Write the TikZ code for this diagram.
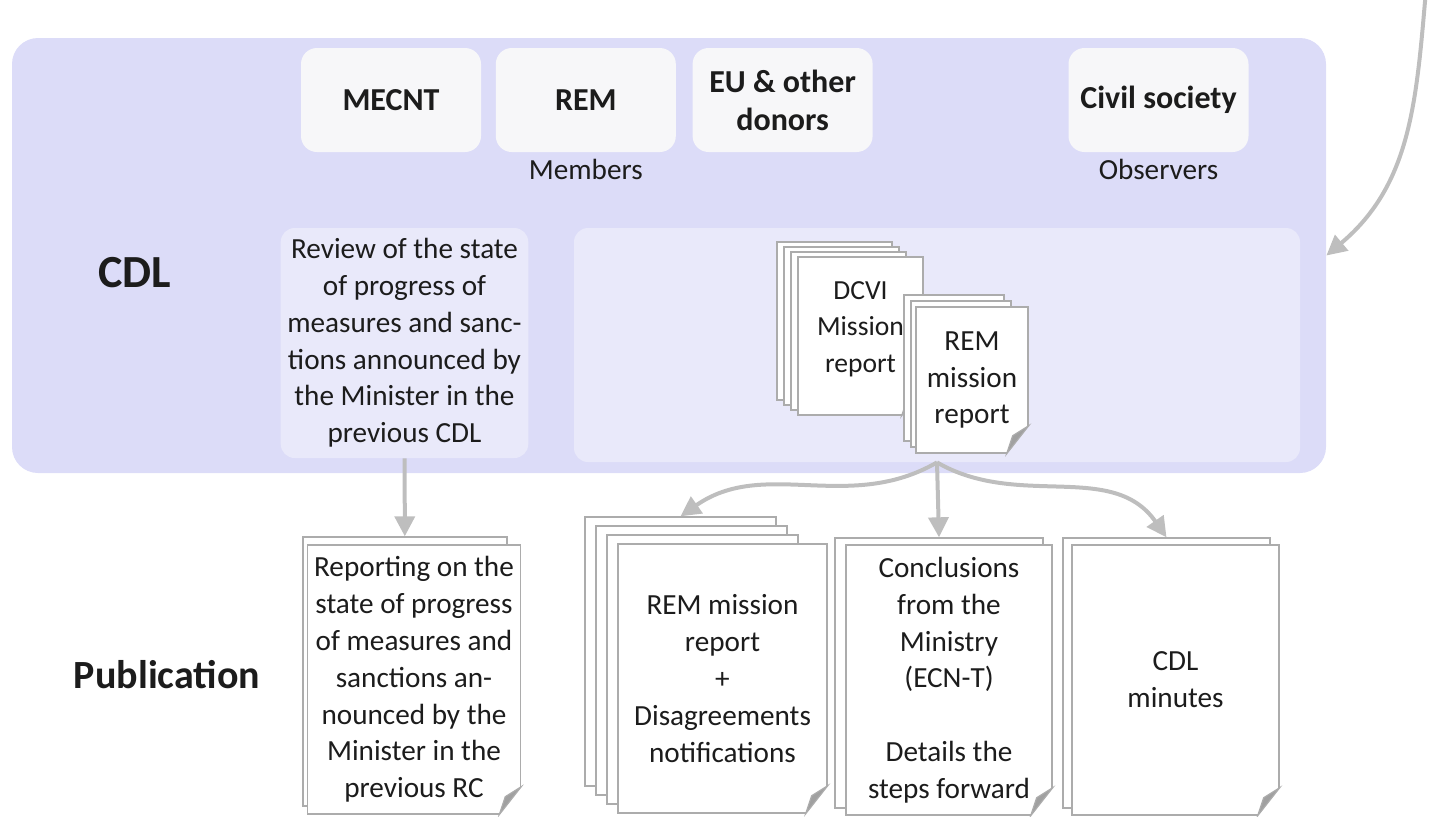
\documentclass[tikz,border=0pt]{standalone}
\usepackage{fontspec}
\setmainfont{Carlito}
\usetikzlibrary{positioning,arrows.meta}

\definecolor{cdlblue}{RGB}{220,220,248}
\definecolor{panelblue}{RGB}{233,233,250}
\definecolor{boxwhite}{RGB}{247,247,249}
\definecolor{flowgray}{RGB}{190,190,190}
\definecolor{pagegray}{RGB}{172,172,172}
\definecolor{foldgray}{RGB}{160,160,160}
\definecolor{ink}{RGB}{28,28,28}

\newcommand{\bodyfont}{\fontsize{14.6}{18.4}\selectfont}

% folded corner at the bottom right of a page (#2 = colour behind the page)
\newcommand{\dogear}[2]{%
  \fill[#2] ([yshift=14pt]#1.south east) -- ([xshift=1pt,yshift=-1pt]#1.south east) -- ([xshift=-11pt]#1.south east) -- cycle;
  \filldraw[draw=pagegray, fill=foldgray, line width=0.6pt] ([yshift=14pt]#1.south east) -- ([xshift=-11pt]#1.south east) -- ([xshift=-8pt,yshift=9pt]#1.south east) -- cycle;
}

\tikzset{
  member/.style={fill=boxwhite, rounded corners=8pt, minimum width=90pt, minimum height=52pt, align=center, text=ink, font=\fontsize{16}{19}\selectfont\bfseries},
  panel/.style={fill=panelblue, rounded corners=7pt, text=ink},
  page/.style={draw=pagegray, fill=white, line width=0.7pt, align=center, text=ink, font=\bodyfont},
  caption/.style={font=\bodyfont, text=ink},
  heading/.style={font=\fontsize{23}{27}\selectfont\bfseries, text=ink},
  flow/.style={draw=flowgray, line width=2pt, -{Triangle[width=10pt,length=10pt]}},
}

\begin{document}
\begin{tikzpicture}[x=0.5pt, y=-0.5pt, node distance=7.5pt]
\useasboundingbox (0,0) rectangle (1435,816);

% CDL meeting
\node[fill=cdlblue, rounded corners=13pt, minimum width=657pt, minimum height=217.5pt] (cdl) at (669,255.5) {};
\node[member] (mecnt) at (391,100) {MECNT};
\node[member, right=7pt of mecnt] (rem) {REM};
\node[member, right=8pt of rem] (donors) {EU \& other\\donors};
\node[member] (civil) at (1158.5,100) {Civil society};
\node[caption, below=0pt of rem] (members) {Members};
\node[caption, below=0pt of civil] (observers) {Observers};

\node[heading] (cdltitle) at (135,273) {CDL};
\node[panel, align=center, minimum width=123.5pt, minimum height=115pt, font=\bodyfont] (review) at (404.5,343)
  {Review of the state\\of progress of\\measures and sanc-\\tions announced by\\the Minister in the\\previous CDL};
\node[panel, minimum width=363pt, minimum height=117pt] (reports) at (937,345) {};

% mission reports
\foreach \i in {3,2,1}
  \node[page, minimum width=57.5pt, minimum height=79pt] (dcvi\i) at (855.5-7*\i,336-5*\i) {};
\node[page, minimum width=62.5pt, minimum height=79pt, font=\fontsize{13.8}{18.4}\selectfont] (dcvi) at (860.5,336) {DCVI\\Mission\\report\\[-9.4pt]};
\dogear{dcvi}{panelblue}
\foreach \i in {2,1}
  \node[page, minimum width=50pt, minimum height=73pt] (remrep\i) at (968-7*\i,380-6*\i) {};
\node[page, minimum width=56pt, minimum height=73pt] (remrep) at (972,380) {REM\\mission\\report};
\dogear{remrep}{panelblue}

% publication
\node[heading, font=\fontsize{20}{24}\selectfont\bfseries] (pubtitle) at (167,675) {Publication};

\node[page, minimum width=102pt, minimum height=134.5pt] (progress1) at (405,671.5) {};
\node[page, minimum width=103pt, minimum height=134.5pt] (progress) at (414,679.5)
  {Reporting on the\\state of progress\\of measures and\\sanctions an-\\nounced by the\\Minister in the\\previous RC};
\dogear{progress}{white}

\foreach \i in {3,2,1}
  \node[page, minimum width=95.5pt, minimum height=134.5pt] (notif\i) at (713.5-11*\i,678.5-9*\i) {};
\node[page, minimum width=104.5pt, minimum height=134.5pt] (notif) at (722.5,678.5)
  {REM mission\\report\\+\\Disagreements\\notifications};
\dogear{notif}{white}

\node[page, minimum width=104pt, minimum height=135pt] (concl1) at (939,673) {};
\node[page, minimum width=103pt, minimum height=135pt] (concl) at (949,680)
  {Conclusions\\from the\\Ministry\\(ECN-T)\\[18.4pt]Details the\\steps forward};
\dogear{concl}{white}

\node[page, minimum width=103.5pt, minimum height=135pt] (minutes1) at (1166.5,673) {};
\node[page, minimum width=103.5pt, minimum height=135pt] (minutes) at (1175.5,680) {CDL\\minutes};
\dogear{minutes}{white}

% connectors
\coordinate (feed) at (1426,-10);
\draw[flow] (feed) to[out=-95,in=40] (cdl.east);
\draw[flow] (review) -- (progress1);
\draw[flow] (reports.south) to[out=-150,in=35] (notif3.north);
\draw[flow] (reports.south) -- (concl1.north);
\draw[flow] (reports.south) to[out=-30,in=125] (minutes1.north);
\end{tikzpicture}
\end{document}
